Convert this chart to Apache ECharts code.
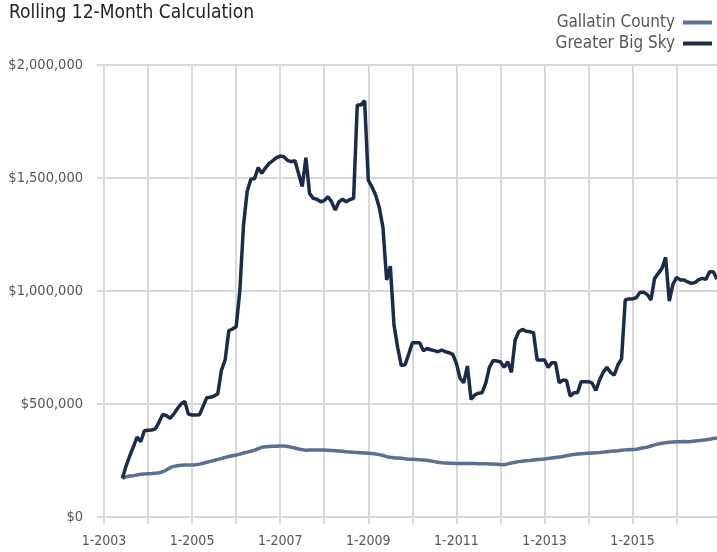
<!DOCTYPE html>
<html>
<head>
<meta charset="utf-8">
<script src="https://cdn.jsdelivr.net/npm/echarts@6/dist/echarts.min.js"></script>
<style>
  html, body { margin: 0; padding: 0; background: #fff; }
  #chart { width: 717px; height: 552px; }
</style>
</head>
<body>
<div id="chart"></div>
<script>
var FONT = '"Liberation Sans Narrow", "DejaVu Sans Condensed", sans-serif';

// months on the axis: 1-2003 .. 12-2016
var firstYear = 2003, lastYear = 2016;
// series start at 6-2003 (5 months after the first category)
var startOffset = 5;

var seriesNames = ['Gallatin County', 'Greater Big Sky'];

// rolling 12-month values, in thousands of dollars, from 6-2003
var gallatin = [
  171, 178, 181, 183, 186, 189, 190,
  191, 192, 194, 196, 200, 208, 218, 224, 227, 229, 230, 230,
  230, 231, 234, 238, 242, 246, 250, 255, 259, 264, 268, 271,
  274, 278, 283, 287, 291, 296, 302, 309, 311, 312, 313, 313,
  314, 314, 312, 309, 305, 301, 298, 295, 296, 297, 296, 296,
  296, 295, 294, 293, 292, 291, 289, 288, 286, 285, 284, 283,
  282, 281, 279, 276, 272, 267, 264, 262, 261, 260, 258, 256,
  255, 254, 253, 252, 251, 248, 245, 242, 240, 239, 238, 238,
  237, 237, 237, 237, 237, 237, 236, 236, 236, 235, 234, 233,
  232, 231, 235, 239, 242, 245, 247, 249, 250, 252, 254, 255,
  257, 259, 261, 263, 265, 268, 271, 274, 277, 279, 280, 281,
  282, 283, 284, 285, 287, 289, 291, 292, 293, 295, 297, 298,
  299, 300, 303, 306, 309, 314, 319, 323, 326, 329, 331, 332,
  333, 333, 334, 333, 334, 336, 338, 340, 342, 344, 347, 350
];

var bigSky = [
  171, 225, 270, 310, 354, 333, 382,
  384, 385, 390, 420, 454, 448, 437, 455, 480, 500, 512, 455,
  451, 451, 452, 490, 528, 530, 535, 545, 650, 695, 824, 832,
  842, 1000, 1290, 1440, 1495, 1497, 1546, 1521, 1545, 1565, 1577, 1590,
  1597, 1594, 1578, 1572, 1577, 1520, 1462, 1590, 1432, 1410, 1406, 1395,
  1400, 1417, 1395, 1358, 1395, 1406, 1395, 1405, 1410, 1823, 1823, 1842,
  1490, 1460, 1425, 1370, 1280, 1049, 1110, 850, 750, 670, 673, 720,
  771, 771, 771, 736, 746, 740, 736, 731, 739, 731, 727, 720,
  680, 614, 594, 668, 520, 540, 548, 550, 592, 662, 692, 690,
  687, 662, 687, 640, 783, 820, 830, 822, 820, 816, 695, 695,
  695, 662, 683, 683, 594, 606, 604, 535, 550, 550, 599, 599,
  599, 592, 560, 606, 640, 662, 640, 628, 673, 700, 960, 965,
  965, 970, 993, 995, 985, 960, 1056, 1078, 1100, 1149, 955, 1030,
  1060, 1049, 1049, 1040, 1034, 1037, 1050, 1056, 1052, 1085, 1085, 1052
];

var yTicks = [0, 500000, 1000000, 1500000, 2000000];

var categories = [];
for (var y = firstYear; y <= lastYear; y++) {
  for (var m = 1; m <= 12; m++) categories.push(m + '-' + y);
}

function toSeries(vals) {
  var out = [];
  for (var i = 0; i < categories.length; i++) {
    var v = vals[i - startOffset];
    out.push(v === undefined ? null : v * 1000);
  }
  return out;
}

function isJan(idx) { return idx % 12 === 0; }
function isOddJan(idx) { return idx % 12 === 0 && (firstYear + idx / 12) % 2 === 1; }

var chart = echarts.init(document.getElementById('chart'));
chart.setOption({
  animation: false,
  backgroundColor: '#fff',
  title: {
    text: 'Rolling 12-Month Calculation',
    left: 4, top: -1,
    textStyle: { fontFamily: FONT, fontSize: 19, fontWeight: 'normal', color: '#222' }
  },
  legend: {
    orient: 'vertical',
    right: 0, top: 9,
    align: 'right',
    icon: 'rect',
    itemWidth: 29, itemHeight: 4,
    itemGap: 4,
    data: seriesNames,
    textStyle: { fontFamily: FONT, fontSize: 17, color: '#555', padding: [0, 3, 0, 0] }
  },
  grid: { left: 104, right: 0, top: 65, bottom: 35 },
  xAxis: {
    type: 'category',
    data: categories,
    boundaryGap: false,
    axisLine: { show: true, lineStyle: { color: '#d9d9d9', width: 2 } },
    axisTick: { show: true, length: 7, interval: function (i) { return isJan(i); },
      lineStyle: { color: '#d9d9d9', width: 2 } },
    splitLine: { show: true, interval: function (i) { return isJan(i); },
      lineStyle: { color: '#d9d9d9', width: 2 } },
    axisLabel: {
      interval: function (i) { return isOddJan(i); },
      fontFamily: FONT, fontSize: 14, color: '#555', margin: 17
    }
  },
  yAxis: {
    type: 'value',
    min: yTicks[0], max: yTicks[yTicks.length - 1], interval: 500000,
    axisLine: { show: false },
    axisTick: { show: true, length: 7, lineStyle: { color: '#d9d9d9', width: 2 } },
    splitLine: { lineStyle: { color: '#d9d9d9', width: 2 } },
    axisLabel: {
      fontFamily: FONT, fontSize: 14.5, color: '#555', margin: 21,
      formatter: function (v) { return '$' + v.toLocaleString('en-US'); }
    }
  },
  series: [
    {
      name: seriesNames[0], type: 'line', data: toSeries(gallatin),
      showSymbol: false, color: '#587096',
      lineStyle: { width: 3.5, color: '#587096' }
    },
    {
      name: seriesNames[1], type: 'line', data: toSeries(bigSky),
      showSymbol: false, color: '#1b2b4b',
      lineStyle: { width: 3.5, color: '#1b2b4b' }
    }
  ]
});
</script>
</body>
</html>
